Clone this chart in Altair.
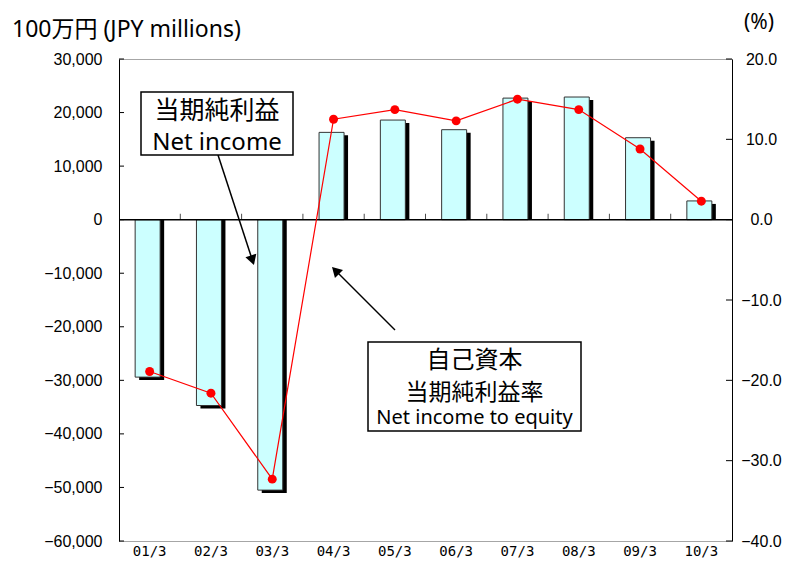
import altair as alt
import pandas as pd

periods = ["01/3", "02/3", "03/3", "04/3", "05/3", "06/3", "07/3", "08/3", "09/3", "10/3"]
net_income = [-29400, -34700, -50500, 16300, 18600, 16800, 22700, 22900, 15300, 3500]
roe = [-18.9, -21.6, -32.3, 12.5, 13.7, 12.3, 15.0, 13.7, 8.8, 2.3]
left_ticks = [-60000, -50000, -40000, -30000, -20000, -10000, 0, 10000, 20000, 30000]
right_ticks = [-40, -30, -20, -10, 0, 10, 20]

df = pd.DataFrame({"period": periods, "income": net_income, "roe": roe})
lt = pd.DataFrame({"v": left_ticks})
rt = pd.DataFrame({"v": right_ticks})
one = pd.DataFrame({"a": [0]})
bnd = pd.DataFrame({"period": periods[1:]})

W, H = 613, 482
JP = "Noto Sans, Noto Sans CJK JP"


def xs():
    return alt.Scale(domain=periods, paddingInner=0, paddingOuter=0)


def ysl():
    return alt.Scale(domain=[-60000, 30000], nice=False, zero=False)


def ysr():
    return alt.Scale(domain=[-40, 20], nice=False, zero=False)


left_axis = alt.Axis(orient="left", title=None, values=left_ticks, format=",d", ticks=False,
                     domain=True, domainColor="black", domainWidth=1, grid=False,
                     labelFont="Liberation Sans", labelFontSize=16, labelColor="black",
                     labelPadding=17, labelOverlap=False)
right_axis = alt.Axis(orient="right", title=None, values=right_ticks, format=".1f", ticks=False,
                      domain=True, domainColor="black", domainWidth=1, grid=False,
                      labelFont="Liberation Sans", labelFontSize=16, labelColor="black",
                      labelAlign="center", labelPadding=29, labelOverlap=False)

shadow = alt.Chart(df).mark_bar(size=25, color="black", xOffset=2, yOffset=3).encode(
    x=alt.X("period:N", scale=xs(), axis=None, sort=periods),
    y=alt.Y("income:Q", scale=ysl(), axis=left_axis),
    y2=alt.datum(0),
)
bars = alt.Chart(df).mark_bar(size=25, color="#CCFFFF", stroke="#333333", strokeWidth=1, xOffset=-2).encode(
    x=alt.X("period:N", scale=xs(), axis=None, sort=periods),
    y=alt.Y("income:Q", scale=ysl(), axis=None),
    y2=alt.datum(0),
)
xlabels = alt.Chart(df).mark_text(font="DejaVu Sans Mono", fontSize=14, color="black",
                                  align="center", baseline="top").encode(
    x=alt.X("period:N", scale=xs(), axis=None, sort=periods),
    y=alt.value(H + 4),
    text="period:N",
)
zero = alt.Chart(one).mark_rule(color="black", strokeWidth=1.5).encode(
    y=alt.Y(datum=0, scale=ysl(), axis=None))
band_ticks = alt.Chart(bnd).mark_tick(orient="vertical", size=6, thickness=1, color="black", yOffset=-3).encode(
    x=alt.X("period:N", scale=xs(), axis=None, bandPosition=0, sort=periods),
    y=alt.Y(datum=0, scale=ysl(), axis=None))
lticks = alt.Chart(lt).mark_rule(color="black", strokeWidth=1).encode(
    x=alt.value(0), x2=alt.value(5), y=alt.Y("v:Q", scale=ysl(), axis=None))

line = alt.Chart(df).mark_line(color="#FF0000", strokeWidth=1.2).encode(
    x=alt.X("period:N", scale=xs(), axis=None, sort=periods),
    y=alt.Y("roe:Q", scale=ysr(), axis=right_axis),
)
pts = alt.Chart(df).mark_point(filled=True, color="#FF0000", size=80, opacity=1).encode(
    x=alt.X("period:N", scale=xs(), axis=None, sort=periods),
    y=alt.Y("roe:Q", scale=ysr(), axis=None),
)
rticks = alt.Chart(rt).mark_rule(color="black", strokeWidth=1).encode(
    x=alt.value(W - 6), x2=alt.value(W), y=alt.Y("v:Q", scale=ysr(), axis=None))


def txt(s, x, y, size, font=JP, baseline="middle", align="center"):
    return alt.Chart(one).mark_text(text=s, font=font, fontSize=size, align=align,
                                    baseline=baseline, color="black").encode(
        x=alt.value(x), y=alt.value(y))


box1 = alt.Chart(one).mark_rect(fill="white", stroke="black", strokeWidth=1.5).encode(
    x=alt.value(22), x2=alt.value(174), y=alt.value(33), y2=alt.value(96))
box2 = alt.Chart(one).mark_rect(fill="white", stroke="black", strokeWidth=1.5).encode(
    x=alt.value(249), x2=alt.value(462), y=alt.value(283), y2=alt.value(372))
arrow1 = alt.Chart(one).mark_rule(color="black", strokeWidth=1.5).encode(
    x=alt.value(99), y=alt.value(96), x2=alt.value(133.4), y2=alt.value(201.2))
head1 = alt.Chart(one).mark_point(shape="triangle-up", filled=True, color="black", opacity=1,
                                  size=130, angle=162).encode(x=alt.value(133.4), y=alt.value(201.2))
arrow2 = alt.Chart(one).mark_rule(color="black", strokeWidth=1.5).encode(
    x=alt.value(276), y=alt.value(271), x2=alt.value(216.5), y2=alt.value(211.5))
head2 = alt.Chart(one).mark_point(shape="triangle-up", filled=True, color="black", opacity=1,
                                  size=130, angle=315).encode(x=alt.value(216.5), y=alt.value(211.5))

layers = [
    shadow, bars, zero, band_ticks, lticks, xlabels,
    line, pts, rticks,
    arrow1, head1, arrow2, head2,
    box1, txt("当期純利益", 98, 52, 25), txt("Net income", 98, 91, 24, baseline="alphabetic"),
    box2, txt("自己資本", 355.5, 302, 24), txt("当期純利益率", 355.5, 334, 23),
    txt("Net income to equity", 355.5, 365, 20, baseline="alphabetic"),
    txt("100万円 (JPY millions)", -107, -29, 23, align="left"),
    txt("(%)", 640, -36, 21),
]

chart = alt.layer(*layers).resolve_scale(y="independent").properties(
    width=W, height=H,
    padding={"left": 111, "top": 51, "right": 52, "bottom": 18},
    autosize=alt.AutoSizeParams(type="none"),
).configure_view(stroke="#A6A6A6", strokeWidth=1)

chart.save("out.html", embed_options={"renderer": "svg", "actions": False})
